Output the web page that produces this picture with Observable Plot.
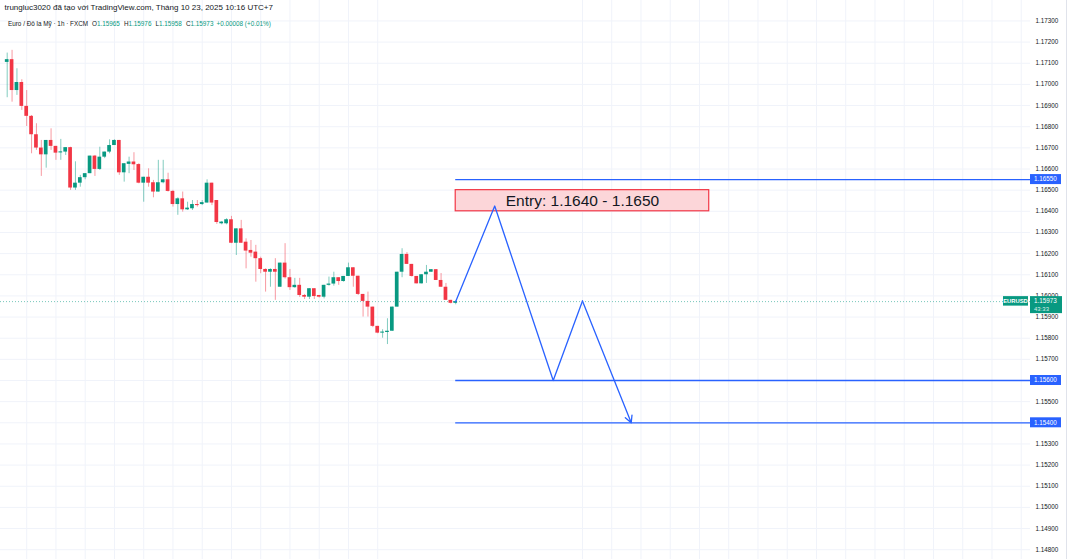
<!DOCTYPE html>
<html><head><meta charset="utf-8">
<script src="https://cdn.jsdelivr.net/npm/d3@7"></script>
<script src="https://cdn.jsdelivr.net/npm/@observablehq/plot@0.6"></script>
<style>
body{margin:0;background:#fff;}
#chart{width:1070px;height:559px;overflow:hidden;}
svg{font-family:"Liberation Sans",Arial,sans-serif;}
</style>
</head><body><div id="chart"></div>
<script>
// ---- data (EURUSD 1h, FXCM) ----
const opens  = [1.17104,1.17117,1.16971,1.17009,1.16896,1.16849,1.16762,1.16699,1.16667,1.16735,1.16707,1.16676,1.16680,1.16701,1.16510,1.16533,1.16559,1.16578,1.16661,1.16598,1.16656,1.16680,1.16711,1.16735,1.16582,1.16622,1.16633,1.16621,1.16533,1.16561,1.16535,1.16491,1.16535,1.16549,1.16494,1.16432,1.16459,1.16407,1.16412,1.16432,1.16432,1.16439,1.16533,1.16451,1.16341,1.16341,1.16360,1.16249,1.16317,1.16254,1.16215,1.16207,1.16176,1.16125,1.16112,1.16125,1.16041,1.16155,1.16086,1.16039,1.16050,1.16002,1.15994,1.16034,1.16002,1.15994,1.16050,1.16056,1.16086,1.16068,1.16092,1.16133,1.16093,1.16007,1.15974,1.15947,1.15856,1.15824,1.15827,1.15833,1.15947,1.16112,1.16196,1.16149,1.16092,1.16057,1.16100,1.16112,1.16124,1.16073,1.16041,1.15979,1.15965];
const highs  = [1.17148,1.17161,1.17074,1.17022,1.16971,1.16853,1.16814,1.16735,1.16735,1.16790,1.16707,1.16740,1.16701,1.16703,1.16634,1.16570,1.16578,1.16661,1.16664,1.16703,1.16680,1.16738,1.16738,1.16735,1.16625,1.16656,1.16677,1.16625,1.16561,1.16601,1.16546,1.16641,1.16641,1.16580,1.16499,1.16464,1.16491,1.16443,1.16451,1.16451,1.16451,1.16549,1.16533,1.16451,1.16352,1.16365,1.16376,1.16317,1.16357,1.16270,1.16262,1.16239,1.16183,1.16128,1.16128,1.16176,1.16155,1.16247,1.16125,1.16083,1.16083,1.16007,1.16034,1.16034,1.16002,1.16050,1.16089,1.16112,1.16086,1.16092,1.16155,1.16133,1.16093,1.16007,1.16018,1.15947,1.15856,1.15840,1.15892,1.15947,1.16112,1.16223,1.16205,1.16149,1.16092,1.16100,1.16144,1.16124,1.16124,1.16106,1.16059,1.15979,1.15976];
const lows   = [1.16937,1.16916,1.16948,1.16877,1.16801,1.16672,1.16688,1.16565,1.16604,1.16688,1.16641,1.16641,1.16664,1.16499,1.16499,1.16514,1.16549,1.16578,1.16565,1.16593,1.16649,1.16672,1.16711,1.16570,1.16538,1.16578,1.16593,1.16530,1.16443,1.16514,1.16464,1.16491,1.16530,1.16491,1.16420,1.16381,1.16396,1.16404,1.16404,1.16420,1.16427,1.16439,1.16427,1.16338,1.16336,1.16336,1.16247,1.16191,1.16249,1.16128,1.16183,1.16065,1.16105,1.16018,1.16041,1.15979,1.16041,1.16080,1.16026,1.16036,1.15993,1.15983,1.15983,1.15983,1.15990,1.15986,1.16046,1.16046,1.16050,1.16065,1.16092,1.16041,1.16002,1.15900,1.15900,1.15850,1.15821,1.15800,1.15770,1.15833,1.15947,1.16086,1.16149,1.16089,1.16057,1.16057,1.16059,1.16112,1.16073,1.16041,1.15979,1.15962,1.15958];
const closes = [1.17117,1.16971,1.17009,1.16896,1.16849,1.16762,1.16699,1.16667,1.16735,1.16707,1.16675,1.16680,1.16701,1.16510,1.16533,1.16559,1.16578,1.16661,1.16598,1.16656,1.16680,1.16711,1.16735,1.16582,1.16625,1.16633,1.16620,1.16533,1.16561,1.16533,1.16491,1.16535,1.16549,1.16494,1.16432,1.16459,1.16407,1.16415,1.16432,1.16427,1.16441,1.16533,1.16439,1.16347,1.16349,1.16360,1.16249,1.16317,1.16249,1.16212,1.16202,1.16176,1.16125,1.16112,1.16125,1.16112,1.16155,1.16086,1.16039,1.16050,1.16002,1.15994,1.16034,1.15997,1.15994,1.16050,1.16056,1.16086,1.16068,1.16092,1.16133,1.16093,1.16007,1.15974,1.15947,1.15856,1.15824,1.15827,1.15833,1.15947,1.16112,1.16196,1.16149,1.16092,1.16057,1.16100,1.16112,1.16124,1.16073,1.16041,1.15979,1.15965,1.15973];

const priceTicks = d3.range(1148, 1174).map(v => v / 1000);
const lastPrice = 1.15973;
const levelPrices = [1.1655, 1.156, 1.154];
const levelLabels = ["1.16550", "1.15600", "1.15400"];
const pathBars   = [92, 100, 112, 118, 128];
const pathPrices = [1.15973, 1.16425, 1.156, 1.15976, 1.154];
const entryLow = 1.164, entryHigh = 1.165, entryFrom = 92, entryTo = 144;
const entryLabel = "Entry: 1.1640 - 1.1650";
const gridBars = [4,10,16,22,28,34,40,46,52,58,64,70,76,118,124,130,136,142,148,154,160,166,172,178,184,190,196,202,208];
const header1 = "trungluc3020 đã tạo với TradingView.com, Tháng 10 23, 2025 10:16 UTC+7";
const header2 = [["Euro / Đô la Mỹ · 1h · FXCM", "d"], ["O", "d", 4], ["1.15965", "g"], ["H", "d", 4], ["1.15976", "g"], ["L", "d", 4], ["1.15958", "g"], ["C", "d", 4], ["1.15973", "g"], ["+0.00008 (+0.01%)", "g", 3]];
const symbol = "EURUSD", countdown = "43:33";

const UP = "#089981", DOWN = "#f23645", BLUE = "#2962ff", GRID = "#f0f3fa", TXT = "#131722";

const candles = opens.map((o, i) => ({i, o, h: highs[i], l: lows[i], c: closes[i], up: closes[i] >= o}));
const pathData = pathBars.map((x, k) => ({x, y: pathPrices[k]}));
const n = pathData.length;

const chart = Plot.plot({
  width: 1070, height: 559,
  marginLeft: 0, marginRight: 40, marginTop: 0, marginBottom: 0,
  x: {domain: [-1.374, 209.9], axis: null},
  y: {domain: [1.147537, 1.173967], axis: null},
  marks: [
    Plot.ruleY(priceTicks, {stroke: GRID, strokeWidth: 1}),
    Plot.ruleX(gridBars, {stroke: GRID, strokeWidth: 1}),
    Plot.ruleY([lastPrice], {stroke: UP, strokeOpacity: 0.55, strokeDasharray: "1,2", strokeWidth: 1}),
    Plot.ruleX(candles, {x: "i", y1: "l", y2: "h", stroke: d => d.up ? UP : DOWN, strokeOpacity: 0.5, strokeWidth: 1}),
    Plot.rect(candles, {
      x1: d => d.i - 0.38, x2: d => d.i + 0.38,
      y1: "o", y2: d => Math.abs(d.c - d.o) < 0.00005 ? d.o + (d.up ? 0.00005 : -0.00005) : d.c,
      fill: d => d.up ? UP : DOWN
    }),
    Plot.ruleY(levelPrices, {x1: entryFrom, x2: 209.9, stroke: BLUE, strokeWidth: 1.3}),
    Plot.rect([0], {x1: entryFrom, x2: entryTo, y1: entryLow, y2: entryHigh, fill: "#fcd6d9", stroke: DOWN, strokeWidth: 1.2}),
    Plot.text([entryLabel], {x: (entryFrom + entryTo) / 2, y: (entryLow + entryHigh) / 2, text: d => d, fontSize: 15.5, fill: TXT}),
    Plot.line(pathData.slice(0, n - 1), {x: "x", y: "y", stroke: BLUE, strokeWidth: 1.3}),
    Plot.arrow([0], {x1: pathData[n - 2].x, y1: pathData[n - 2].y, x2: pathData[n - 1].x, y2: pathData[n - 1].y, stroke: BLUE, strokeWidth: 1.3, headLength: 9, headAngle: 55}),
    Plot.text(priceTicks, {y: d => d, frameAnchor: "right", dx: 5, textAnchor: "start", text: d => d3.format(".5f")(d), fontSize: 6.3, fill: TXT})
  ]
});

const svg = d3.select(chart);
const ys = chart.scale("y");
const right = 1070 - 40;
const addText = (x, y, size, fill, txt, anchor = "start") =>
  svg.append("text").attr("x", x).attr("y", y).attr("font-size", size).attr("fill", fill).attr("text-anchor", anchor).text(txt);

// header
addText(4.5, 10, 8, TXT, header1);
const h2 = svg.append("text").attr("x", 8).attr("y", 26).attr("font-size", 6.35).attr("text-anchor", "start");
header2.forEach(([t, c, dx]) => {
  const ts = h2.append("tspan").attr("fill", c === "g" ? UP : TXT).text(t);
  if (dx) ts.attr("dx", dx);
});

// right border
svg.append("line").attr("x1", 1066.5).attr("x2", 1066.5).attr("y1", 0).attr("y2", 559).attr("stroke", "#e0e3eb");

// level badges
levelPrices.forEach((p, k) => {
  const y = ys.apply(p);
  svg.append("rect").attr("x", right).attr("y", y - 5).attr("width", 31).attr("height", 10).attr("fill", BLUE);
  addText(right + 4, y + 2.3, 6.3, "#fff", levelLabels[k]);
});

// last price badges
{
  const y = ys.apply(lastPrice);
  svg.append("rect").attr("x", right - 27).attr("y", y - 5).attr("width", 25).attr("height", 9.5).attr("fill", UP);
  addText(right - 14.5, y + 2, 5.8, "#fff", symbol, "middle").attr("font-weight", "bold");
  svg.append("rect").attr("x", right).attr("y", y - 5).attr("width", 32).attr("height", 17).attr("fill", UP);
  addText(right + 4, y + 2.3, 6.3, "#fff", d3.format(".5f")(lastPrice));
  addText(right + 4, y + 10, 6, "#fff", countdown).attr("fill-opacity", 0.85);
}

document.getElementById("chart").appendChild(chart);
</script>
</body></html>
